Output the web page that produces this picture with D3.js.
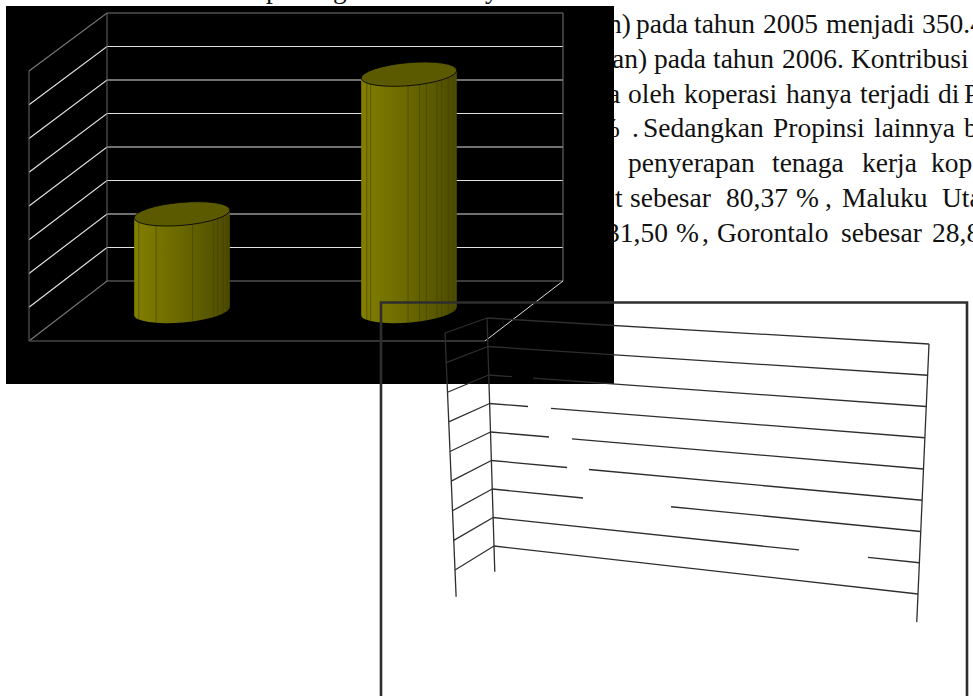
<!DOCTYPE html>
<html>
<head>
<meta charset="utf-8">
<script src="https://cdn.jsdelivr.net/npm/d3@7"></script>
<style>
    html, body { margin: 0; padding: 0; background: #fff; overflow: hidden; }
    svg { display: block; }
    text { font-family: "Liberation Serif", serif; fill: #111; }
</style>
</head>
<body>
<div id="chart"></div>
<script>
// chart data
const years = ["2005", "2006"];
const barValues = [2.9, 7.07];
const levels = [0, 1, 2, 3, 4, 5, 6, 7, 8];

// paragraph behind the charts, justified so every word has its own start
const paragraphWords = [
    ["n)", "pada", "tahun", "2005", "menjadi", "350.4"],
    ["an)", "pada", "tahun", "2006.", "Kontribusi"],
    ["a", "oleh", "koperasi", "hanya", "terjadi", "di", "P"],
    ["%", ".", "Sedangkan", "Propinsi", "lainnya", "b"],
    ["n", "penyerapan", "tenaga", "kerja", "kop"],
    ["t", "sebesar", "80,37", "%", ",", "Maluku", "Uta"],
    ["31,50", "%", ",", "Gorontalo", "sebesar", "28,8"]
];
const wordStarts = [
    [608, 636, 694, 763, 826, 922],
    [612, 654, 713, 782, 851],
    [608, 628, 684, 786, 860, 938, 964],
    [597, 632, 643, 773, 874, 964],
    [597, 628, 772, 862, 931],
    [615, 630, 726, 796, 825, 842, 942],
    [606, 676, 702, 717, 841, 932]
];
const clippedLetters = ["p", "g", "y"];
const clippedLetterStarts = [266, 333, 485];

// second chart, only the wire frame came through
const hiddenLevels = [6, 5, 4, 3, 2, 1];
const hiddenFrom = [512, 528, 549, 567, 583, 799];
const hiddenTo = [533, 551, 572, 589, 671, 868];

const width = 973, height = 696;

const svg = d3.select("#chart").append("svg")
    .attr("width", width)
    .attr("height", height);

drawParagraph();
drawBarChart();
drawWireChart();

function drawParagraph() {
    const fontSize = 27.5;

    paragraphWords.forEach((words, i) => {
        svg.append("g").selectAll("text")
            .data(words)
            .join("text")
            .attr("x", (d, j) => wordStarts[i][j])
            .attr("y", 32.7 + i * 34.9)
            .attr("font-size", fontSize)
            .text(d => d);
    });

    svg.append("g").selectAll("text")
        .data(clippedLetters)
        .join("text")
        .attr("x", (d, i) => clippedLetterStarts[i])
        .attr("y", -2.5)
        .attr("font-size", fontSize)
        .text(d => d);
}

function drawBarChart() {
    svg.append("rect")
        .attr("x", 6).attr("y", 6)
        .attr("width", 608).attr("height", 378)
        .attr("fill", "#000");

    // back wall and side wall of the 3d box
    const backY = d3.scaleLinear().domain([0, 8]).range([281, 13]);
    const frontY = d3.scaleLinear().domain([0, 8]).range([341, 71]);
    const midY = d3.scaleLinear().domain([0, 8]).range([311, 43]);
    const backLeft = 107, backRight = 563, frontLeft = 29, frontRight = 485;

    const x = d3.scaleBand().domain(years).range([68.5, 522.5]);

    const grid = svg.append("g").attr("fill", "none");

    levels.forEach(v => {
        const edge = v === 0 || v === 8;
        grid.append("path")
            .attr("d", d3.line()([[frontLeft, frontY(v)], [backLeft, backY(v)], [backRight, backY(v)]]))
            .attr("stroke", edge ? "#777" : "#e0e0e0")
            .attr("stroke-width", 1.2);
    });

    grid.append("line")
        .attr("x1", frontLeft).attr("x2", frontLeft)
        .attr("y1", frontY(8)).attr("y2", frontY(0))
        .attr("stroke", "#666");
    grid.append("line")
        .attr("x1", backLeft).attr("x2", backLeft)
        .attr("y1", backY(8)).attr("y2", backY(0))
        .attr("stroke", "#666");
    grid.append("line")
        .attr("x1", backRight).attr("x2", backRight)
        .attr("y1", backY(8)).attr("y2", backY(0))
        .attr("stroke", "#777");
    grid.append("line")
        .attr("x1", frontLeft).attr("x2", frontRight)
        .attr("y1", frontY(0)).attr("y2", frontY(0))
        .attr("stroke", "#444").attr("stroke-width", 1.4);
    grid.append("line")
        .attr("x1", frontRight).attr("x2", backRight)
        .attr("y1", frontY(0)).attr("y2", backY(0))
        .attr("stroke", "#ddd");

    const defs = svg.append("defs");
    const grad = defs.append("linearGradient")
        .attr("id", "barShade");
    grad.append("stop").attr("offset", "0%").attr("stop-color", "#827f00");
    grad.append("stop").attr("offset", "45%").attr("stop-color", "#6c6a00");
    grad.append("stop").attr("offset", "100%").attr("stop-color", "#4c4b00");

    const tilt = -5;
    const rad = tilt * Math.PI / 180;
    const ribFractions = [[0.05, 0.23, 0.61, 0.83, 0.87, 0.93, 0.97],
                          [0.06, 0.1, 0.49, 0.61, 0.68, 0.79, 0.84, 0.91, 0.96]];

    years.forEach((year, i) => {
        const cx = x(year) + x.bandwidth() / 2;
        const rx = 48, ry = 11.5;
        const dx = rx * Math.cos(rad), dy = rx * Math.sin(rad);
        const topY = midY(barValues[i]);
        const baseY = midY(0);
        const body = `M${cx - dx},${topY - dy} L${cx - dx},${baseY - dy}`
            + ` A${rx},${ry} ${tilt} 0 0 ${cx + dx},${baseY + dy}`
            + ` L${cx + dx},${topY + dy} Z`;

        defs.append("clipPath").attr("id", `barClip${i}`)
            .append("path").attr("d", body);

        const bar = svg.append("g");
        bar.append("path")
            .attr("d", body)
            .attr("fill", "url(#barShade)");

        bar.append("g")
            .attr("clip-path", `url(#barClip${i})`)
            .selectAll("line")
            .data(ribFractions[i])
            .join("line")
            .attr("x1", d => cx - rx + d * rx * 2)
            .attr("x2", d => cx - rx + d * rx * 2)
            .attr("y1", topY)
            .attr("y2", baseY + 20)
            .attr("stroke", "#3f3e00")
            .attr("stroke-opacity", 0.7)
            .attr("stroke-width", 0.8);

        bar.append("ellipse")
            .attr("cx", cx).attr("cy", topY)
            .attr("rx", rx).attr("ry", ry)
            .attr("transform", `rotate(${tilt} ${cx} ${topY})`)
            .attr("fill", "#5c5a00")
            .attr("stroke", "#000")
            .attr("stroke-width", 0.8);
    });
}

function drawWireChart() {
    // this one was scanned slightly warped, so each edge gets its own scales
    const domain = [0, 8];
    const frontX = d3.scaleLinear().domain(domain).range([455, 445]);
    const frontY = d3.scaleLinear().domain(domain).range([570, 333]);
    const backX = d3.scaleLinear().domain(domain).range([494, 487]);
    const backY = d3.scaleLinear().domain(domain).range([546, 318]);
    const rightX = d3.scaleLinear().domain(domain).range([918, 929]);
    const rightY = d3.scaleLinear().domain(domain).range([594, 344]);
    const bottom = -0.9;

    const wire = svg.append("g")
        .attr("fill", "none")
        .attr("stroke", "#2e2e2e")
        .attr("stroke-width", 1.3);

    const segment = (a, b) => wire.append("path").attr("d", d3.line()([a, b]));

    levels.forEach(v => {
        const back = [backX(v), backY(v)];
        const right = [rightX(v), rightY(v)];
        segment([frontX(v), frontY(v)], back);

        const gap = hiddenLevels.indexOf(v);
        if (gap < 0) {
            segment(back, right);
        } else {
            const along = d3.scaleLinear().domain([back[0], right[0]]).range([back[1], right[1]]);
            segment(back, [hiddenFrom[gap], along(hiddenFrom[gap])]);
            segment([hiddenTo[gap], along(hiddenTo[gap])], right);
        }
    });

    segment([frontX(8), frontY(8)], [frontX(bottom), frontY(bottom)]);
    segment([backX(8), backY(8)], [backX(bottom), backY(bottom)]);
    segment([rightX(8), rightY(8)], [rightX(bottom), rightY(bottom)]);

    // outer frame runs off the bottom of the page
    svg.append("path")
        .attr("d", d3.line()([[381, 696], [381, 302.5], [967, 302.5], [967, 696]]))
        .attr("fill", "none")
        .attr("stroke", "#2e2e2e")
        .attr("stroke-width", 2.6);
}
</script>
</body>
</html>
